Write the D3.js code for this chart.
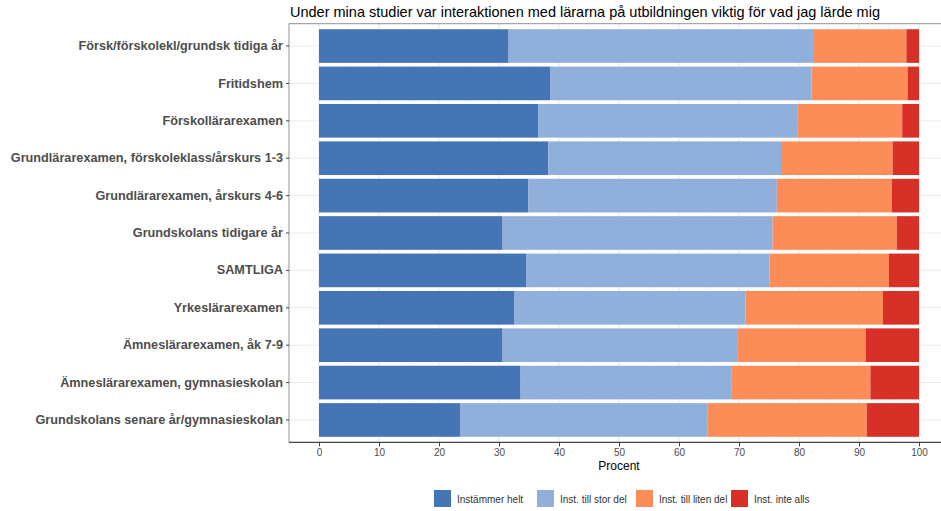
<!DOCTYPE html>
<html>
<head>
<meta charset="utf-8">
<script src="https://cdn.jsdelivr.net/npm/d3@7"></script>
<style>
  body { margin: 0; background: #fff; }
  text { font-family: "Liberation Sans", Arial, sans-serif; }
</style>
</head>
<body>
<div id="main"></div>
<script>
var categories = [
  "Försk/förskolekl/grundsk tidiga år",
  "Fritidshem",
  "Förskollärarexamen",
  "Grundlärarexamen, förskoleklass/årskurs 1-3",
  "Grundlärarexamen, årskurs 4-6",
  "Grundskolans tidigare år",
  "SAMTLIGA",
  "Yrkeslärarexamen",
  "Ämneslärarexamen, åk 7-9",
  "Ämneslärarexamen, gymnasieskolan",
  "Grundskolans senare år/gymnasieskolan"
];
var seriesNames = ["Instämmer helt", "Inst. till stor del", "Inst. till liten del", "Inst. inte alls"];
var helt    = [31.6, 38.5, 36.5, 38.2, 34.9, 30.6, 34.5, 32.5, 30.6, 33.6, 23.5];
var stor    = [50.9, 43.6, 43.2, 38.8, 41.4, 45.0, 40.6, 38.6, 39.1, 35.1, 41.2];
var liten   = [15.4, 16.0, 17.5, 18.6, 19.2, 20.7, 19.9, 22.9, 21.4, 23.2, 26.6];
var inte    = [2.1, 1.9, 2.8, 4.4, 4.5, 3.7, 5.0, 6.0, 8.9, 8.1, 8.7];
var xTicks = [0, 10, 20, 30, 40, 50, 60, 70, 80, 90, 100];
var colors = ["#4575b4", "#91afdb", "#fc8d59", "#d73027"];

var width = 941, height = 511;
var panel = {left: 289, right: 949, top: 23.6, bottom: 442.4};

var translate = function(x, y) { return "translate(" + x + "," + y + ")"; };

var svg = d3.select("#main").append("svg")
    .attr("width", width)
    .attr("height", height);

var x = d3.scaleLinear().domain([-5, 105]).range([panel.left, panel.right]);
var y = d3.scaleBand()
    .domain(categories)
    .range([panel.top, panel.bottom])
    .paddingInner(0.1)
    .paddingOuter(0.15);

// stacked data
var rows = categories.map(function(c, i) {
  return {cat: c, v: [helt[i], stor[i], liten[i], inte[i]]};
});
var stack = d3.stack()
    .keys([0, 1, 2, 3])
    .value(function(d, k) { return d.v[k]; });
var layers = stack(rows);

// grid
var grid = svg.append("g");
d3.range(5, 105, 10).forEach(function(v) {
  grid.append("line")
    .attr("x1", x(v)).attr("x2", x(v))
    .attr("y1", panel.top).attr("y2", panel.bottom)
    .attr("stroke", "#f2f2f2").attr("stroke-width", 0.6);
});
grid.selectAll(".gx").data(xTicks).enter().append("line")
    .attr("x1", function(d) { return x(d); }).attr("x2", function(d) { return x(d); })
    .attr("y1", panel.top).attr("y2", panel.bottom)
    .attr("stroke", "#e6e6e6").attr("stroke-width", 1);
grid.selectAll(".gy").data(categories).enter().append("line")
    .attr("x1", panel.left).attr("x2", panel.right)
    .attr("y1", function(d) { return y(d) + y.bandwidth() / 2; })
    .attr("y2", function(d) { return y(d) + y.bandwidth() / 2; })
    .attr("stroke", "#ebebeb").attr("stroke-width", 1);

// bars
svg.selectAll(".layer").data(layers).enter().append("g")
    .attr("fill", function(d, i) { return colors[i]; })
  .selectAll("rect").data(function(d) { return d; }).enter().append("rect")
    .attr("x", function(d) { return x(d[0]); })
    .attr("width", function(d) { return x(d[1]) - x(d[0]); })
    .attr("y", function(d) { return y(d.data.cat); })
    .attr("height", y.bandwidth());

// panel border (top, left)
svg.append("line").attr("x1", panel.left).attr("x2", panel.right)
    .attr("y1", panel.top).attr("y2", panel.top)
    .attr("stroke", "#a6a6a6").attr("stroke-width", 1.2);
svg.append("line").attr("x1", panel.left).attr("x2", panel.left)
    .attr("y1", panel.top).attr("y2", panel.bottom)
    .attr("stroke", "#a6a6a6").attr("stroke-width", 1.2);

// x axis
var xAxis = d3.axisBottom(x).tickValues(xTicks).tickSize(4).tickPadding(3);
var gx = svg.append("g").attr("transform", translate(0, panel.bottom)).call(xAxis);
gx.select(".domain").attr("stroke", "#444").attr("stroke-width", 1.2).attr("d", "M" + panel.left + ",0H" + panel.right);
gx.selectAll(".tick line").attr("stroke", "#444");
gx.selectAll(".tick text").attr("fill", "#4d4d4d").style("font-size", "10px");

// y axis
var yAxis = d3.axisLeft(y).tickSize(3).tickPadding(3);
var gy = svg.append("g").attr("transform", translate(panel.left, 0)).call(yAxis);
gy.select(".domain").remove();
gy.selectAll(".tick line").attr("stroke", "#444");
gy.selectAll(".tick text").attr("fill", "#4d4d4d")
    .style("font-size", "12.7px").style("font-weight", "bold");

// titles
svg.append("text").attr("x", 290).attr("y", 17)
    .style("font-size", "14.5px").attr("fill", "#000")
    .text("Under mina studier var interaktionen med lärarna på utbildningen viktig för vad jag lärde mig");
svg.append("text").attr("x", x(50)).attr("y", 470).attr("text-anchor", "middle")
    .style("font-size", "12px").attr("fill", "#000").text("Procent");

// legend
var legendX = [434, 537, 636, 731];
var leg = svg.selectAll(".leg").data(seriesNames).enter().append("g")
    .attr("transform", function(d, i) { return translate(legendX[i], 490); });
leg.append("rect").attr("width", 17).attr("height", 17)
    .attr("fill", function(d, i) { return colors[i]; });
leg.append("text").attr("x", 23).attr("y", 12.5)
    .style("font-size", "10px").attr("fill", "#333")
    .text(function(d) { return d; });
</script>
</body>
</html>
